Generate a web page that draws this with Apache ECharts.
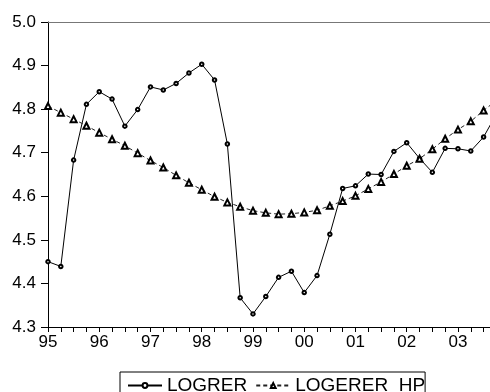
<!DOCTYPE html>
<html>
<head>
<meta charset="utf-8">
<script src="https://cdn.jsdelivr.net/npm/echarts@6/dist/echarts.min.js"></script>
<style>
html,body{margin:0;padding:0;background:#fff;}
#chart{width:490px;height:392px;}
</style>
</head>
<body>
<div id="chart"></div>
<script>
// Quarterly data, 1995Q1 .. 2003Q4 (index 0 = 1995Q1)
const yearLabels = ['95','96','97','98','99','00','01','02','03'];
const seriesNames = ['LOGRER', 'LOGERER_HP'];
const logrer = [
  4.450, 4.439, 4.683, 4.811, 4.840, 4.823, 4.761, 4.799,
  4.851, 4.844, 4.859, 4.883, 4.903, 4.867, 4.720, 4.367,
  4.330, 4.370, 4.414, 4.428, 4.379, 4.418, 4.513, 4.618,
  4.624, 4.651, 4.650, 4.703, 4.723, 4.687, 4.655, 4.710,
  4.709, 4.704, 4.736, 4.789
];
const logererHP = [
  4.807, 4.792, 4.777, 4.762, 4.746, 4.731, 4.716, 4.699,
  4.682, 4.666, 4.648, 4.631, 4.615, 4.599, 4.586, 4.576,
  4.567, 4.562, 4.559, 4.560, 4.563, 4.568, 4.578, 4.589,
  4.601, 4.617, 4.633, 4.651, 4.670, 4.686, 4.708, 4.732,
  4.753, 4.772, 4.797, 4.820
];

const FONT = "'Liberation Sans', Arial, sans-serif";
const toPairs = arr => arr.map((v, i) => [i, v]);

const chart = echarts.init(document.getElementById('chart'), null, {renderer: 'canvas'});
chart.setOption({
  animation: false,
  backgroundColor: '#fff',
  grid: {left: 48, top: 22, right: 0, bottom: 65, containLabel: false},
  legend: {
    data: seriesNames,
    left: 120, top: 372,
    orient: 'horizontal',
    itemWidth: 34, itemHeight: 6, itemGap: 8,
    padding: [4, 0, 10, 7],
    borderColor: '#000', borderWidth: 1,
    formatter: n => n === 'LOGERER_HP' ? 'LOGERER  HP' : n,
    textStyle: {fontFamily: FONT, fontSize: 19, color: '#000'}
  },
  xAxis: [{
    type: 'value', min: 0, max: 34.5, interval: 1,
    axisLine: {show: true, lineStyle: {color: '#000', width: 1}},
    axisTick: {show: true, length: 5, inside: false, lineStyle: {color: '#000'}},
    axisLabel: {
      margin: 7, fontFamily: FONT, fontSize: 17, color: '#000',
      showMaxLabel: false,
      formatter: v => (v % 4 === 0 && v / 4 < yearLabels.length) ? yearLabels[v / 4] : ''
    },
    splitLine: {show: false}
  }, {
    type: 'value', min: 0, max: 34.5, position: 'top',
    axisLine: {show: true, lineStyle: {color: '#777', width: 1}},
    axisTick: {show: false}, axisLabel: {show: false}, splitLine: {show: false}
  }],
  yAxis: {
    type: 'value', min: 4.3, max: 5.0, interval: 0.1,
    axisLine: {show: true, lineStyle: {color: '#000', width: 1}},
    axisTick: {show: true, length: 7, lineStyle: {color: '#000'}},
    axisLabel: {
      margin: 12, fontFamily: FONT, fontSize: 17, color: '#000',
      formatter: v => v.toFixed(1)
    },
    splitLine: {show: false}
  },
  series: [{
    name: seriesNames[0], type: 'line', data: toPairs(logrer),
    symbol: 'emptyCircle', symbolSize: 3.5, showAllSymbol: true,
    lineStyle: {color: '#000', width: 1},
    itemStyle: {color: '#000', borderColor: '#000', borderWidth: 0.7},
    clip: true
  }, {
    name: seriesNames[1], type: 'line', data: toPairs(logererHP),
    symbol: 'emptyTriangle', symbolSize: 6, showAllSymbol: true,
    lineStyle: {color: '#222', width: 1, type: [4, 3]},
    itemStyle: {color: '#000', borderColor: '#000', borderWidth: 0.7},
    clip: true
  }]
});
</script>
</body>
</html>
